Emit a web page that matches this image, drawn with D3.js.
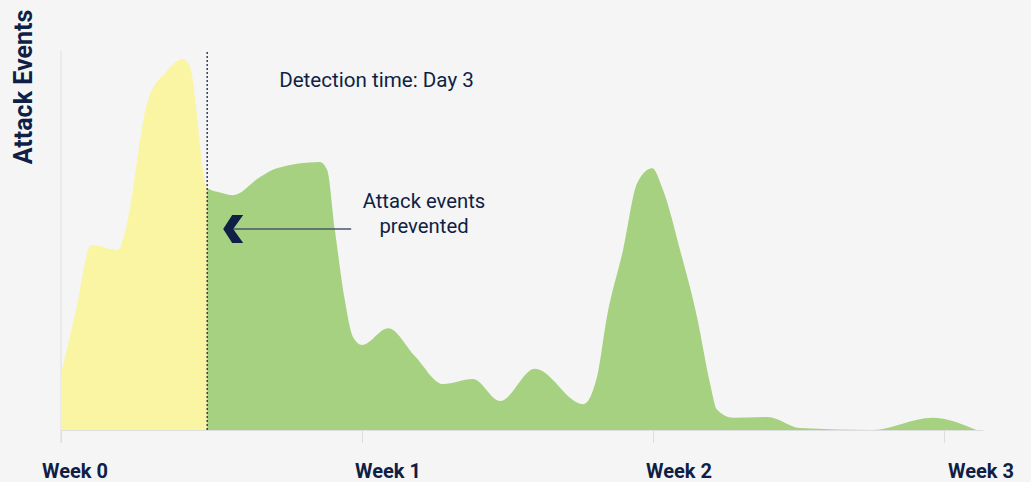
<!DOCTYPE html>
<html>
<head>
<meta charset="utf-8">
<script src="https://cdn.jsdelivr.net/npm/d3@7"></script>
<style>
    html, body { margin: 0; padding: 0; background: #f5f5f5; }
    svg { display: block; font-family: Roboto, "Noto Sans", sans-serif; }
</style>
</head>
<body>
<svg id="chart" width="1031" height="482"></svg>
<script>
// days since start of the attack
var days = [0, 0.35, 0.70, 1.33, 1.49, 2.02, 2.42, 2.84, 3.0, 3.40, 3.74, 4.0, 4.63, 5.02, 6.02, 6.19,
    6.37, 6.60, 6.79, 7.0, 7.63, 8.27, 8.95, 9.67, 10.32, 11.16, 12.32, 12.65, 12.89, 13.28, 13.62,
    13.98, 14.24, 14.65, 15.06, 15.37, 15.54, 15.92, 16.76, 17.53, 19.28, 20.72, 21.78];
var events = [14.7, 31.6, 48.7, 47.4, 52.1, 86.8, 93.9, 97.6, 95.5, 63.7, 62.4, 61.8, 66.6, 68.9, 70.5, 68.4,
    52.6, 34.2, 24.5, 22.4, 26.8, 19.5, 12.1, 13.4, 7.6, 16.1, 6.8, 13.9, 29.7, 47.4, 65.0,
    68.9, 63.2, 47.4, 29.7, 12.4, 5.3, 3.2, 3.4, 0.5, 0, 3.2, 0];
var weekDays = [0, 7, 14, 21];
var weekLabels = ['Week 0', 'Week 1', 'Week 2', 'Week 3'];
var detectionDay = 3.4;
var yLabel = 'Attack Events';
var detectionLabel = 'Detection time: Day 3';
var preventedLabel = ['Attack events', 'prevented'];

(function(){
    'use strict';

    var svg = d3.select('#chart'),
        navy = '#0f1f45',
        axisGray = '#dedede',
        yellow = '#f9f5a3',
        green = '#a6d180',
        points = days.map(function( d, i ){ return { day: d, value: events[i] }; });

    var x = d3.scaleLinear()
            .domain( weekDays )
            .range( [61, 362, 653, 944] ),
        y = d3.scaleLinear()
            .domain( [0, 100] )
            .range( [430, 50] );

    var xEnd = x( 21.95 ),
        xDetect = x( detectionDay );

    // y axis line, no ticks
    svg.append( 'line' )
        .attr( 'x1', x(0) ).attr( 'x2', x(0) )
        .attr( 'y1', 51 ).attr( 'y2', 443 )
        .attr( 'stroke', axisGray ).attr( 'stroke-width', 1 );

    // x axis ticks
    var xAxis = d3.axisBottom( x )
        .tickValues( weekDays )
        .tickSize( 13 )
        .tickFormat( '' );

    var $xAxis = svg.append( 'g' )
        .attr( 'transform', 'translate(0,430)' )
        .call( xAxis );
    $xAxis.select( '.domain' ).remove();
    $xAxis.selectAll( '.tick line' ).attr( 'stroke', axisGray );

    // areas, split at detection time by clipping
    var area = d3.area()
        .x( function( d ){ return x(d.day); } )
        .y0( y(0) )
        .y1( function( d ){ return y(d.value); } )
        .curve( d3.curveMonotoneX );

    var defs = svg.append( 'defs' );
    defs.append( 'clipPath' ).attr( 'id', 'before' )
        .append( 'rect' )
        .attr( 'x', 0 ).attr( 'y', 0 )
        .attr( 'width', xDetect ).attr( 'height', 482 );
    defs.append( 'clipPath' ).attr( 'id', 'after' )
        .append( 'rect' )
        .attr( 'x', xDetect ).attr( 'y', 0 )
        .attr( 'width', 1031 - xDetect ).attr( 'height', 482 );

    svg.append( 'path' )
        .datum( points )
        .attr( 'clip-path', 'url(#before)' )
        .attr( 'fill', yellow )
        .attr( 'd', area );

    svg.append( 'path' )
        .datum( points )
        .attr( 'clip-path', 'url(#after)' )
        .attr( 'fill', green )
        .attr( 'd', area );

    // baseline over the areas
    svg.append( 'line' )
        .attr( 'x1', x(0) ).attr( 'x2', xEnd )
        .attr( 'y1', 430.5 ).attr( 'y2', 430.5 )
        .attr( 'stroke', axisGray ).attr( 'stroke-width', 1 );

    // week labels (small nudges to sit like the original)
    var labelDx = [14, 26, 26, 37];
    svg.selectAll( 'text.week' )
        .data( weekDays )
        .enter().append( 'text' )
        .attr( 'class', 'week' )
        .attr( 'x', function( d, i ){ return x(d) + labelDx[i]; } )
        .attr( 'y', 478 )
        .attr( 'text-anchor', 'middle' )
        .attr( 'font-size', 20 )
        .attr( 'font-weight', 700 )
        .attr( 'fill', navy )
        .text( function( d, i ){ return weekLabels[i]; } );

    // y label
    svg.append( 'text' )
        .attr( 'transform', 'translate(32,87) rotate(-90)' )
        .attr( 'text-anchor', 'middle' )
        .attr( 'font-size', 25 )
        .attr( 'font-weight', 700 )
        .attr( 'fill', navy )
        .text( yLabel );

    // detection marker
    svg.append( 'line' )
        .attr( 'x1', xDetect ).attr( 'x2', xDetect )
        .attr( 'y1', 52 ).attr( 'y2', 430 )
        .attr( 'stroke', '#34405a' )
        .attr( 'stroke-width', 1.5 )
        .attr( 'stroke-dasharray', '2,2' );

    svg.append( 'text' )
        .attr( 'x', xDetect + 72 )
        .attr( 'y', 87 )
        .attr( 'font-size', 20.6 )
        .attr( 'fill', navy )
        .text( detectionLabel );

    // prevented annotation with arrow
    var arrowY = 229,
        tipX = xDetect + 16;

    svg.append( 'line' )
        .attr( 'x1', tipX + 10 ).attr( 'x2', tipX + 128 )
        .attr( 'y1', arrowY ).attr( 'y2', arrowY )
        .attr( 'stroke', '#4a556e' )
        .attr( 'stroke-width', 1.5 );

    svg.append( 'polygon' )
        .attr( 'points', [
            [tipX + 9, arrowY - 14], [tipX + 20, arrowY - 14], [tipX + 10, arrowY],
            [tipX + 20, arrowY + 14], [tipX + 9, arrowY + 14], [tipX, arrowY]
        ].map( function( p ){ return p.join( ',' ); } ).join( ' ' ) )
        .attr( 'fill', navy );

    svg.append( 'text' )
        .attr( 'x', 424 )
        .attr( 'y', 208 )
        .attr( 'text-anchor', 'middle' )
        .attr( 'font-size', 20.3 )
        .attr( 'fill', navy )
        .selectAll( 'tspan' )
        .data( preventedLabel )
        .enter().append( 'tspan' )
        .attr( 'x', 424 )
        .attr( 'dy', function( d, i ){ return i ? 25 : 0; } )
        .text( function( d ){ return d; } );
})();
</script>
</body>
</html>
